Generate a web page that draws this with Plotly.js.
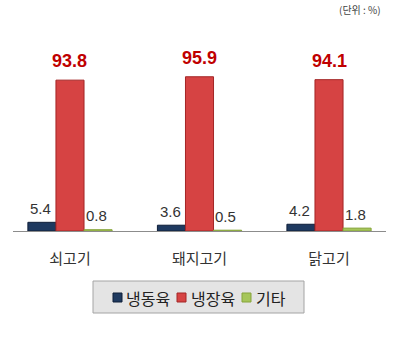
<!DOCTYPE html>
<html>
<head>
<meta charset="utf-8">
<script src="https://cdn.plot.ly/plotly-3.0.1.min.js"></script>
<style>html,body{margin:0;padding:0;background:#fff;}#chart{width:400px;height:340px;}</style>
</head>
<body>
<div id="chart"></div>
<script>
const categories = ["쇠고기", "돼지고기", "닭고기"];
const seriesNames = ["냉동육", "냉장육", "기타"];
const frozen = [5.4, 3.6, 4.2];
const chilled = [93.8, 95.9, 94.1];
const other = [0.8, 0.5, 1.8];
const unitLabel = "(단위 : %)";

const KFONT = '"Noto Sans CJK KR", "Noto Sans", sans-serif';
const NFONT = 'Arial, "Liberation Sans", sans-serif';
const colors = ["#1f3a60", "#d64343", "#a6c65a"];
const lineColors = ["#0e1e38", "#a32626", "#86a43a"];
const seriesData = [frozen, chilled, other];

// plot-area geometry (pixels) used to place the hand-drawn legend box
const M = {l: 13, r: 14, t: 38, b: 109};
const W = 400, H = 340;
const PW = W - M.l - M.r, PH = H - M.t - M.b;
const px2x = px => (px - M.l) / PW;
const py2y = py => (H - M.b - py) / PH;

const bargap = 0.35;
const traces = seriesData.map((vals, s) => ({
  type: "bar",
  name: seriesNames[s],
  x: categories,
  y: vals,
  marker: {color: colors[s], line: {color: lineColors[s], width: 1}},
  hoverinfo: "skip",
  showlegend: false
}));

const barW = (1 - bargap) / 3;
const annotations = [];
seriesData.forEach((vals, s) => {
  vals.forEach((v, i) => {
    const isRed = s === 1;
    annotations.push({
      x: i + (s - 1) * barW,
      y: v,
      xref: "x", yref: "y",
      text: v.toFixed(1),
      showarrow: false,
      yanchor: "middle",
      yshift: isRed ? 19 : (s === 0 ? 14 : 14),
      xshift: s === 0 ? -1 : (s === 2 ? -2 : 0),
      font: isRed ? {family: NFONT, size: 18, color: "#c00000", weight: "bold"}
                  : {family: NFONT, size: 15, color: "#333333"}
    });
  });
});
annotations.push({
  x: px2x(383), y: py2y(10), xref: "paper", yref: "paper",
  xanchor: "right", yanchor: "middle",
  text: unitLabel, showarrow: false,
  font: {family: KFONT, size: 10, color: "#444"}
});

// legend (drawn as box + swatches + text)
const shapes = [{
  type: "rect", xref: "paper", yref: "paper",
  x0: px2x(93), x1: px2x(304), y0: py2y(313), y1: py2y(281),
  fillcolor: "#e4e4e4", line: {color: "#a4a4a4", width: 1}, layer: "below"
}];
const swatchX = [113, 177, 242];
const textX = [124, 189, 254];
seriesNames.forEach((name, s) => {
  shapes.push({
    type: "rect", xref: "paper", yref: "paper",
    x0: px2x(swatchX[s]), x1: px2x(swatchX[s] + 9),
    y0: py2y(302), y1: py2y(293),
    fillcolor: colors[s], line: {color: lineColors[s], width: 1}
  });
  annotations.push({
    x: px2x(textX[s]), y: py2y(297.5), xref: "paper", yref: "paper",
    xanchor: "left", yanchor: "middle",
    text: name, showarrow: false,
    font: {family: KFONT, size: 16, color: "#222"}
  });
});

const layout = {
  width: W, height: H,
  margin: M,
  paper_bgcolor: "#ffffff",
  plot_bgcolor: "#ffffff",
  barmode: "group",
  bargap: bargap,
  bargroupgap: 0,
  showlegend: false,
  xaxis: {
    type: "category",
    range: [-0.44, 2.44],
    showline: true, linecolor: "#8c8c8c", linewidth: 1,
    showgrid: false, zeroline: false,
    ticks: "",
    ticklabelstandoff: 14,
    tickfont: {family: KFONT, size: 15, color: "#333"},
    fixedrange: true
  },
  yaxis: {
    range: [0, 120],
    visible: false,
    showgrid: false, zeroline: false,
    fixedrange: true
  },
  shapes: shapes,
  annotations: annotations
};

Plotly.newPlot("chart", traces, layout, {displayModeBar: false, staticPlot: true});
</script>
</body>
</html>
